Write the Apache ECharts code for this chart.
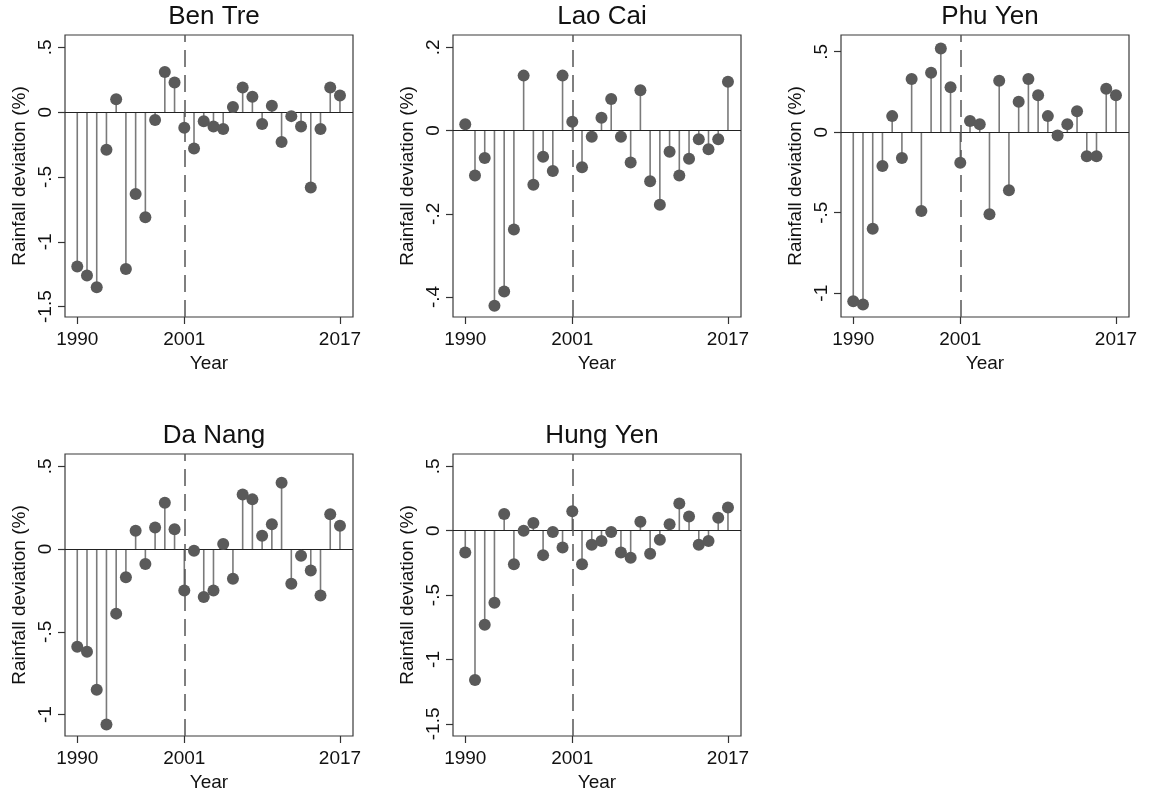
<!DOCTYPE html>
<html>
<head>
<meta charset="utf-8">
<script src="https://cdn.jsdelivr.net/npm/echarts@6/dist/echarts.min.js"></script>
<style>
  html, body { margin: 0; padding: 0; background: #fff; }
  #chart { width: 1150px; height: 794px; }
</style>
</head>
<body>
<div id="chart"></div>
<script>
// rainfall deviation by province, 1990-2017
const years = [];
for (let y = 1990; y <= 2017; y++) years.push(y);

const benTre = [-1.19, -1.26, -1.35, -0.29, 0.10, -1.21, -0.63, -0.81, -0.06, 0.31,
  0.23, -0.12, -0.28, -0.07, -0.11, -0.13, 0.04, 0.19, 0.12, -0.09,
  0.05, -0.23, -0.03, -0.11, -0.58, -0.13, 0.19, 0.13];
const laoCai = [0.015, -0.108, -0.066, -0.421, -0.387, -0.238, 0.132, -0.130, -0.063, -0.097,
  0.132, 0.021, -0.088, -0.015, 0.031, 0.076, -0.015, -0.077, 0.097, -0.122,
  -0.178, -0.051, -0.108, -0.068, -0.021, -0.045, -0.021, 0.117];
const phuYen = [-1.05, -1.07, -0.60, -0.21, 0.10, -0.16, 0.33, -0.49, 0.37, 0.52,
  0.28, -0.19, 0.07, 0.05, -0.51, 0.32, -0.36, 0.19, 0.33, 0.23,
  0.10, -0.02, 0.05, 0.13, -0.15, -0.15, 0.27, 0.23];
const daNang = [-0.59, -0.62, -0.85, -1.06, -0.39, -0.17, 0.11, -0.09, 0.13, 0.28,
  0.12, -0.25, -0.01, -0.29, -0.25, 0.03, -0.18, 0.33, 0.30, 0.08,
  0.15, 0.40, -0.21, -0.04, -0.13, -0.28, 0.21, 0.14];
const hungYen = [-0.17, -1.16, -0.73, -0.56, 0.13, -0.26, 0.00, 0.06, -0.19, -0.01,
  -0.13, 0.15, -0.26, -0.11, -0.08, -0.01, -0.17, -0.21, 0.07, -0.18,
  -0.07, 0.05, 0.21, 0.11, -0.11, -0.08, 0.10, 0.18];

const names = ['Ben Tre', 'Lao Cai', 'Phu Yen', 'Da Nang', 'Hung Yen'];
const values = [benTre, laoCai, phuYen, daNang, hungYen];
const yTicks = [
  [-1.5, -1, -0.5, 0, 0.5],
  [-0.4, -0.2, 0, 0.2],
  [-1, -0.5, 0, 0.5],
  [-1, -0.5, 0, 0.5],
  [-1.5, -1, -0.5, 0, 0.5]
];
const xTicks = [1990, 2001, 2017];
const cutYear = 2001;

// layout of each panel (px)
const yRange = [[-1.58, 0.596], [-0.448, 0.2296], [-1.148, 0.604], [-1.129, 0.574], [-1.594, 0.595]];
const boxes = [
  { left: 65, top: 35 }, { left: 453, top: 35 }, { left: 841, top: 35 },
  { left: 65, top: 454 }, { left: 453, top: 454 }
];
const W = 288, H = 282;

const font = 'Liberation Sans, Arial, Helvetica, sans-serif';
const dot = '#5a5a5a';

function fmt(v) {
  if (v === 0) return '0';
  return String(v).replace('0.', '.');
}

const option = {
  animation: false,
  backgroundColor: '#fff',
  title: [], grid: [], xAxis: [], yAxis: [], series: []
};

names.forEach(function (name, i) {
  const b = boxes[i];
  option.title.push({
    text: name,
    left: b.left + W / 2,
    top: b.top - 36,
    textAlign: 'center',
    textStyle: { fontFamily: font, fontSize: 26, fontWeight: 'normal', color: '#111' }
  });
  option.grid.push({
    left: b.left, top: b.top, width: W, height: H,
    show: true, borderColor: '#3a3a3a', borderWidth: 1.2, backgroundColor: '#fff'
  });
  option.xAxis.push({
    type: 'value', gridIndex: i, min: 1988.74, max: 2018.34,
    name: 'Year', nameLocation: 'middle', nameGap: 37,
    nameTextStyle: { fontFamily: font, fontSize: 19, color: '#111' },
    axisLine: { show: false, onZero: false },
    splitLine: { show: false },
    axisTick: { show: true, length: 7, customValues: xTicks, lineStyle: { color: '#333', width: 1.2 } },
    axisLabel: {
      customValues: xTicks, margin: 13, fontFamily: font, fontSize: 19, color: '#111',
      formatter: function (v) { return String(v); }
    }
  });
  option.yAxis.push({
    type: 'value', gridIndex: i, min: yRange[i][0], max: yRange[i][1],
    name: 'Rainfall deviation (%)', nameLocation: 'middle', nameGap: 36, nameRotate: 90,
    nameTextStyle: { fontFamily: font, fontSize: 19, color: '#111' },
    axisLine: { show: false, onZero: false },
    splitLine: { show: false },
    axisTick: { show: true, length: 7, customValues: yTicks[i], lineStyle: { color: '#333', width: 1.2 } },
    axisLabel: {
      customValues: yTicks[i], rotate: 90, margin: 10,
      fontFamily: font, fontSize: 19, color: '#111', formatter: fmt
    }
  });
  const pts = years.map(function (y, k) { return [y, values[i][k]]; });
  // stems
  option.series.push({
    type: 'bar', xAxisIndex: i, yAxisIndex: i, data: pts,
    barWidth: 1.6, silent: true,
    itemStyle: { color: '#7a7a7a' }
  });
  // dots + reference lines
  option.series.push({
    type: 'scatter', xAxisIndex: i, yAxisIndex: i, data: pts,
    symbolSize: 12, silent: true, z: 5,
    itemStyle: { color: dot, opacity: 1 },
    markLine: {
      silent: true, symbol: 'none', label: { show: false },
      data: [
        { yAxis: 0, lineStyle: { color: '#222', width: 1.2, type: 'solid' } },
        { xAxis: cutYear, lineStyle: { color: '#555', width: 1.5, type: [17, 8] } }
      ]
    }
  });
});

const chart = echarts.init(document.getElementById('chart'));
chart.setOption(option);
</script>
</body>
</html>
